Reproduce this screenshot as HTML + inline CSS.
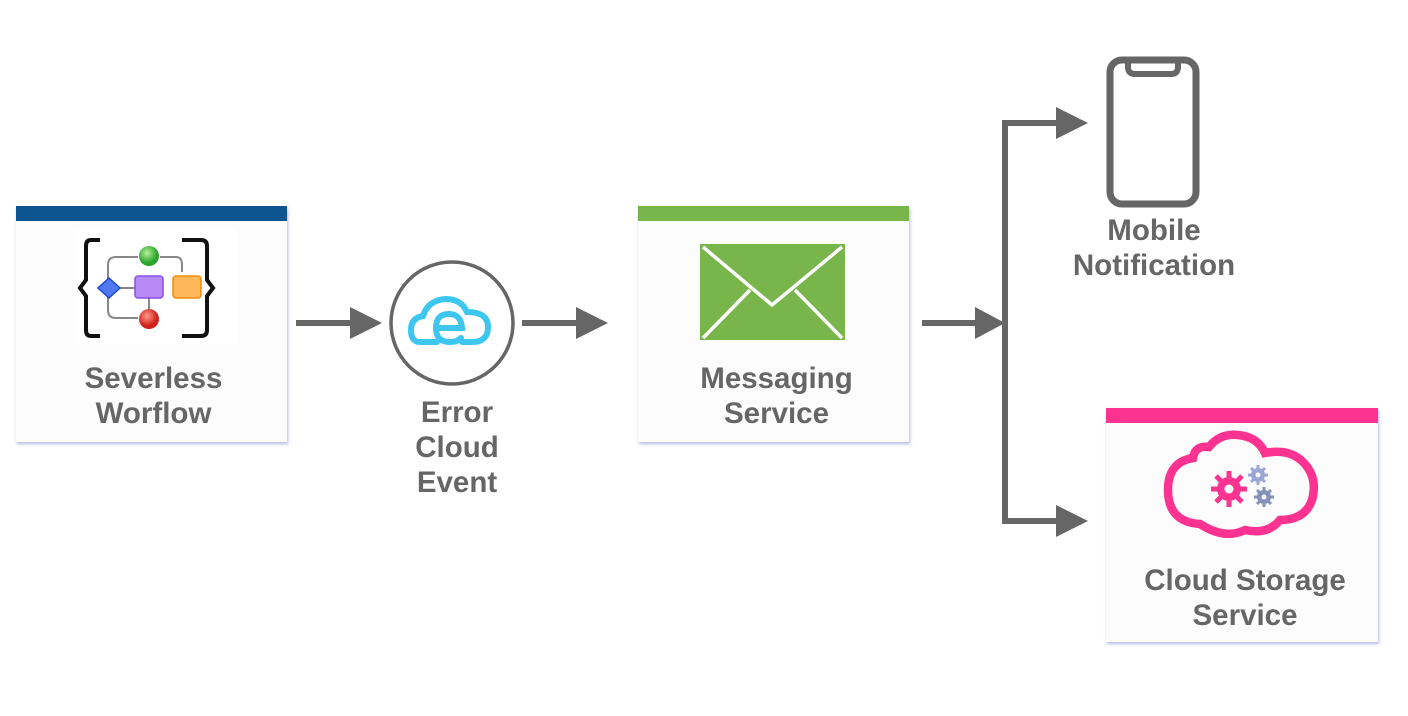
<!DOCTYPE html>
<html><head><style>
body{margin:0;width:1408px;height:716px;background:#fff;position:relative;overflow:hidden;font-family:"Liberation Sans",sans-serif}
.box{position:absolute;background:#fcfcfc;box-shadow:1px 2px 3px rgba(120,130,210,.55)}
.bar{position:absolute;left:0;right:0;top:0;height:15px}
.t{position:absolute;font-weight:bold;font-size:29.5px;color:#666;text-align:center;line-height:35px}
</style></head><body>
<div class="box" style="left:16px;top:206px;width:271px;height:236px"><div class="bar" style="background:#0e5490"></div></div>
<div class="box" style="left:638px;top:206px;width:271px;height:236px"><div class="bar" style="background:#78b54a"></div></div>
<div class="box" style="left:1106px;top:408px;width:272px;height:234px"><div class="bar" style="background:#fc3391"></div></div>

<div class="t" style="left:16px;width:275px;top:361px">Severless<br>Worflow</div>
<div class="t" style="left:380px;width:154px;top:395px">Error<br>Cloud<br>Event</div>
<div class="t" style="left:638px;width:277px;top:361px">Messaging<br>Service</div>
<div class="t" style="left:1040px;width:228px;top:213px">Mobile<br>Notification</div>
<div class="t" style="left:1106px;width:278px;top:563px">Cloud Storage<br>Service</div>

<svg width="1408" height="716" style="position:absolute;left:0;top:0">
<defs>
<radialGradient id="g" cx=".4" cy=".35"><stop offset="0" stop-color="#b6f09a"/><stop offset="1" stop-color="#2aa52a"/></radialGradient>
<radialGradient id="r" cx=".4" cy=".35"><stop offset="0" stop-color="#ff9a8a"/><stop offset="1" stop-color="#d0201a"/></radialGradient>
</defs>
<rect x="73" y="228" width="164" height="116" fill="#fff"/>
<g fill="none" stroke="#111" stroke-width="4">
<path d="M100 240 H91 Q86 240 86 246 V280 L80 288 L86 296 V330 Q86 336 91 336 H100"/>
<path d="M182 240 H201 Q207 240 207 246 V280 L213 288 L207 296 V330 Q207 336 201 336 H182"/>
</g>
<g fill="none" stroke="#888" stroke-width="2">
<path d="M108 282 V265 Q108 257 116 257 H138"/><path d="M160 257 H176 Q182 257 182 265 V272"/>
<path d="M108 295 V310 Q108 318 116 318 H138"/><path d="M120 288 H135"/><path d="M149 297 V310"/>
</g>
<circle cx="149" cy="256" r="10" fill="url(#g)"/>
<circle cx="149" cy="319" r="10" fill="url(#r)"/>
<path d="M109 278 L120 288 L109 298 L98 288Z" fill="#4d7af0" stroke="#1f46d8" stroke-width="1.5"/>
<rect x="135" y="276" width="28" height="22" rx="3" fill="#b88af5" stroke="#8a4ee6" stroke-width="1.5"/>
<rect x="173" y="276" width="28" height="22" rx="3" fill="#ffb75a" stroke="#f28a10" stroke-width="1.5"/>

<g stroke="#666" stroke-width="6" fill="#666">
<line x1="296" y1="323" x2="355" y2="323"/><line x1="522" y1="323" x2="580" y2="323"/>
<line x1="922" y1="323" x2="980" y2="323"/>
<line x1="1005" y1="123" x2="1005" y2="521"/>
<line x1="1002" y1="123" x2="1062" y2="123"/><line x1="1002" y1="521" x2="1062" y2="521"/>
</g>
<g fill="#666">
<path d="M350 307 L382 323 L350 339Z"/><path d="M576 307 L608 323 L576 339Z"/>
<path d="M975 307 L1005 323 L975 339Z"/>
<path d="M1056 107 L1088 123 L1056 139Z"/><path d="M1056 505 L1088 521 L1056 537Z"/>
</g>

<circle cx="452" cy="323" r="61" fill="#fff" stroke="#666" stroke-width="3.5"/>
<g fill="none" stroke="#3dc6f0" stroke-width="6" stroke-linecap="round">
<path d="M437 342 H420 Q411 342 411 330 Q411 318 423 316 Q428 300 446 299 Q461 299 467 312 Q488 312 488 327 Q488 342 472 342 H462"/>
<path d="M436 328 H462 Q461 314 449 314 Q436 314 436 328 Q436 342 450 342 Q457 342 461 338"/>
</g>

<rect x="700" y="244" width="145" height="96" fill="#78b54a"/>
<g fill="none" stroke="#fff" stroke-width="3.5">
<path d="M703 247 L772 305 L842 247"/><path d="M703 338 L750 290"/><path d="M842 338 L795 290"/>
</g>

<rect x="1110" y="60" width="86" height="144" rx="12" fill="none" stroke="#666" stroke-width="7"/>
<path d="M1128 60 V67 Q1128 74 1135 74 H1171 Q1178 74 1178 67 V60" fill="none" stroke="#666" stroke-width="6"/>

<path d="M1200 524 Q1168 522 1168 490 Q1168 462 1193 458 Q1195 445 1209 447 Q1220 433 1238 435 Q1258 437 1265 453 Q1290 448 1304 463 Q1318 478 1312 500 Q1305 520 1280 520 Q1268 535 1245 530 Q1225 540 1200 524Z" fill="none" stroke="#fc3391" stroke-width="8.5"/>
<g fill="#fc3391"><circle cx="1229" cy="489" r="12"/>
<g stroke="#fc3391" stroke-width="5"><line x1="1229" y1="471" x2="1229" y2="507"/><line x1="1211" y1="489" x2="1247" y2="489"/><line x1="1216" y1="476" x2="1242" y2="502"/><line x1="1242" y1="476" x2="1216" y2="502"/></g></g>
<circle cx="1229" cy="489" r="4.5" fill="#fcfcfc"/>
<g fill="#9aa6d6"><circle cx="1258" cy="475" r="7"/><g stroke="#9aa6d6" stroke-width="3"><line x1="1258" y1="465" x2="1258" y2="485"/><line x1="1248" y1="475" x2="1268" y2="475"/><line x1="1251" y1="468" x2="1265" y2="482"/><line x1="1265" y1="468" x2="1251" y2="482"/></g></g>
<circle cx="1258" cy="475" r="2.5" fill="#fcfcfc"/>
<g fill="#8591b8"><circle cx="1264" cy="497" r="7"/><g stroke="#8591b8" stroke-width="3"><line x1="1264" y1="487" x2="1264" y2="507"/><line x1="1254" y1="497" x2="1274" y2="497"/><line x1="1257" y1="490" x2="1271" y2="504"/><line x1="1271" y1="490" x2="1257" y2="504"/></g></g>
<circle cx="1264" cy="497" r="2.5" fill="#fcfcfc"/>
</svg>
</body></html>
